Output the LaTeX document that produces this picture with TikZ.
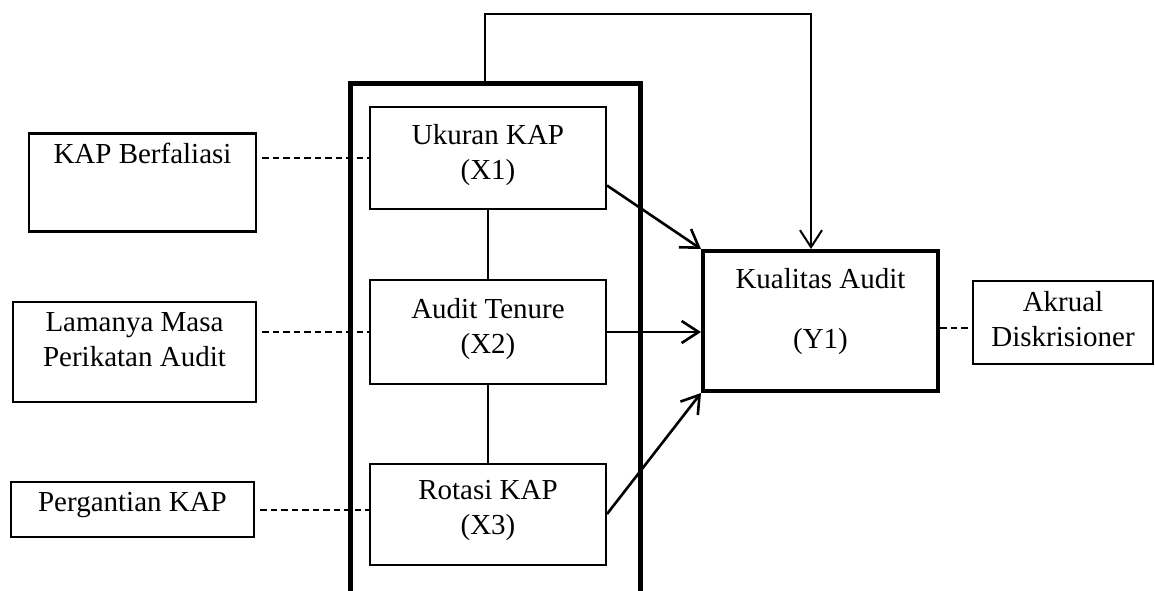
\documentclass[tikz,border=0pt]{standalone}
\usepackage{fontspec}
\setmainfont{Liberation Serif}
\usetikzlibrary{arrows.meta,positioning}

\begin{document}
\begin{tikzpicture}[x=1pt, y=-1pt, node distance=178pt]
  \tikzstyle{var} = [rectangle, draw, line width=2pt, align=center, inner sep=0pt,
                     font=\fontsize{29pt}{35pt}\selectfont]
  \tikzstyle{ind} = [var, minimum width=236pt, minimum height=102pt, text depth=13pt]
  \tikzstyle{proxy} = [var, line width=2.5pt]
  \tikzstyle{link} = [line width=2.6pt, -{Straight Barb[length=17pt,width=22pt]}]
  \tikzstyle{proxyline} = [line width=2pt, dash pattern=on 6.5pt off 4pt, shorten <=5pt]
\useasboundingbox (0,0) rectangle (1155,590);
% open frame round the three independent variables
\draw[line width=5pt] (350,596) -- (350,83) -- (640,83) -- (640,596);
\coordinate (top) at (485,83);
\node[ind](ukuran) at (488,158) {Ukuran KAP\\(X1)};
\node[ind, below of=ukuran, yshift=4pt, minimum height=104pt](tenure) {Audit Tenure\\(X2)};
\node[ind, below of=tenure, yshift=-4pt, minimum height=101pt](rotasi) {Rotasi KAP\\(X3)};
\node[proxy, minimum width=227pt, text height=21pt, text depth=59pt, inner ysep=9pt, anchor=north](afiliasi) at (142.5,132) {KAP Berfaliasi};
\node[proxy, minimum width=243pt, minimum height=100pt, text depth=25pt](masa) at (134.5,352) {Lamanya Masa\\Perikatan Audit};
\node[proxy, minimum width=243pt, minimum height=55pt, text depth=15pt](ganti) at (132.5,509.5) {Pergantian KAP};
\node[var, line width=4pt, minimum width=235pt, minimum height=140pt, text depth=26pt](kualitas) at (820.5,321) {Kualitas Audit\\[25pt](Y1)};
\node[proxy, minimum width=180pt, minimum height=83pt, text depth=8pt](akrual) at (1063,322.5) {Akrual\\Diskrisioner};
\draw[line width=2pt] (ukuran) -- (tenure);
\draw[line width=2pt] (tenure) -- (rotasi);
\draw[link, line width=2pt] (top) -- ++(0,-69) -| ([xshift=-9.5pt]kualitas.north);
\draw[link] (ukuran.-13) -- (kualitas.north west);
\draw[link] (tenure.east) -- (tenure.east -| kualitas.west);
\draw[link] (rotasi.east) -- (kualitas.south west);
\draw[proxyline] (afiliasi.east |- ukuran.west) -- (ukuran.west);
\draw[proxyline] (masa.east |- tenure.west) -- (tenure.west);
\draw[proxyline] (ganti.east) -- (ganti.east -| rotasi.west);
\draw[proxyline, shorten <=0pt] ([yshift=-7pt]kualitas.east) -- ([yshift=-7pt]kualitas.east -| akrual.west);
\end{tikzpicture}
\end{document}
